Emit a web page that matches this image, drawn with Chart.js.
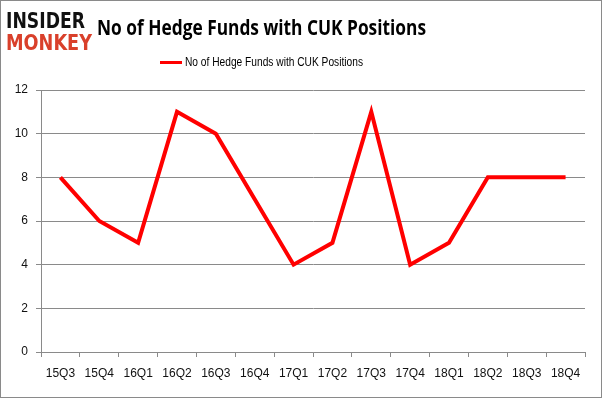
<!DOCTYPE html>
<html lang="en">
<head>
<meta charset="UTF-8">
<title>CUK hedge funds</title>
<script src="https://cdn.jsdelivr.net/npm/chart.js"></script>
<style>
  html, body { margin: 0; padding: 0; background: #fff; }
  #wrap { width: 602px; height: 398px; }
</style>
</head>
<body>
<div id="wrap"><canvas id="chart" width="602" height="398"></canvas></div>
<script>
const quarters = ['15Q3', '15Q4', '16Q1', '16Q2', '16Q3', '16Q4', '17Q1', '17Q2', '17Q3', '17Q4', '18Q1', '18Q2', '18Q3', '18Q4'];
const fundCounts = [8, 6, 5, 11, 10, 7, 4, 5, 11, 4, 5, 8, 8, 8];
const yTicks = [0, 2, 4, 6, 8, 10, 12];
const seriesName = 'No of Hedge Funds with CUK Positions';
const chartTitle = 'No of Hedge Funds with CUK Positions';

const FONT = '"Liberation Sans", Arial, sans-serif';

// title, logo, legend and frame drawn by hand
const decor = {
    id: 'decor',
    beforeDraw(chart) {
        const c = chart.ctx;
        c.save();
        c.fillStyle = '#fff';
        c.fillRect(0, 0, chart.width, chart.height);
        c.restore();
    },
    afterDraw(chart) {
        const c = chart.ctx;
        c.save();
        c.strokeStyle = '#8a8a8a';
        c.lineWidth = 1;
        c.strokeRect(0.5, 0.5, chart.width - 1, chart.height - 1);

        // logo
        c.textBaseline = 'alphabetic';
        c.textAlign = 'left';
        c.font = 'bold 22px "DejaVu Sans", sans-serif';
        c.fillStyle = '#111';
        drawFit(c, 'INSIDER', 6, 28, 79);
        c.fillStyle = '#d9402b';
        drawFit(c, 'MONKEY', 6, 50, 86);

        // title
        c.fillStyle = '#000';
        c.font = 'bold 21px "Open Sans", "Liberation Sans", sans-serif';
        drawFit(c, chartTitle, 97, 35, 329);

        // legend
        c.strokeStyle = '#ff0000';
        c.lineWidth = 3;
        c.beginPath();
        c.moveTo(160, 62.5);
        c.lineTo(182, 62.5);
        c.stroke();
        c.fillStyle = '#000';
        c.font = '12px ' + FONT;
        c.textBaseline = 'middle';
        drawFit(c, seriesName, 185, 63, 178);
        c.restore();
    }
};

function drawFit(c, text, x, y, w) {
    const m = c.measureText(text).width;
    c.save();
    c.translate(x, y);
    c.scale(w / m, 1);
    c.fillText(text, 0, 0);
    c.restore();
}

new Chart(document.getElementById('chart'), {
    type: 'line',
    data: {
        labels: quarters,
        datasets: [{
            label: seriesName,
            data: fundCounts,
            borderColor: '#ff0000',
            backgroundColor: '#ff0000',
            borderWidth: 4,
            pointRadius: 0,
            tension: 0,
            fill: false
        }]
    },
    options: {
        responsive: false,
        animation: false,
        layout: { padding: { top: 90, right: 17, bottom: 0, left: 0 } },
        plugins: {
            legend: { display: false },
            title: { display: false },
            tooltip: { enabled: false }
        },
        scales: {
            x: {
                offset: true,
                grid: {
                    offset: true,
                    drawOnChartArea: false,
                    drawTicks: true,
                    tickLength: 5,
                    color: '#8a8a8a'
                },
                border: { color: '#8a8a8a' },
                ticks: {
                    font: { family: FONT, size: 12 },
                    color: '#111',
                    maxRotation: 0,
                    autoSkip: false,
                    padding: 9
                },
                afterFit(scale) { scale.height = 46; }
            },
            y: {
                min: 0,
                max: 12,
                afterBuildTicks(scale) { scale.ticks = yTicks.map(v => ({ value: v })); },
                grid: {
                    color: '#8a8a8a',
                    drawTicks: true,
                    tickLength: 5
                },
                border: { color: '#8a8a8a' },
                ticks: {
                    font: { family: FONT, size: 12 },
                    color: '#111',
                    padding: 8
                },
                afterFit(scale) { scale.width = 41; }
            }
        }
    },
    plugins: [decor]
});
</script>
</body>
</html>
